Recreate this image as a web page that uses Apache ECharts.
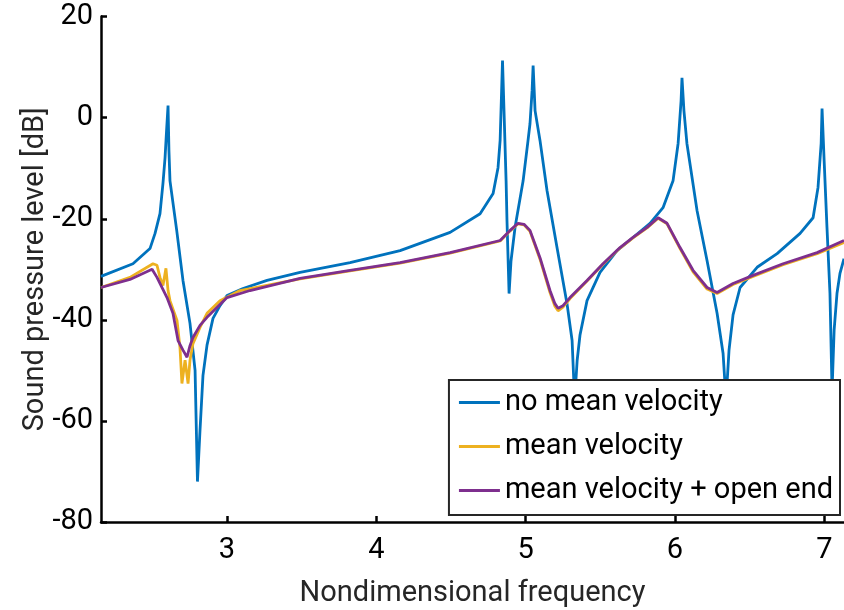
<!DOCTYPE html>
<html>
<head>
<meta charset="utf-8">
<script src="https://cdn.jsdelivr.net/npm/echarts@6/dist/echarts.min.js"></script>
<style>
  html, body { margin: 0; padding: 0; background: #fff; }
  #main { width: 844px; height: 610px; }
</style>
</head>
<body>
<div id="main"></div>
<script>
// no mean velocity
var freqA = [2.156, 2.370, 2.484, 2.518, 2.551, 2.571, 2.585, 2.595, 2.605, 2.611, 2.618, 2.663, 2.705, 2.752, 2.786, 2.802,
  2.819, 2.839, 2.866, 2.906, 2.953, 3.0, 3.107, 3.268, 3.489, 3.824, 4.159, 4.494, 4.695, 4.782, 4.815, 4.829, 4.839, 4.845,
  4.855, 4.869, 4.875, 4.889, 4.902, 4.929, 4.983, 5.016, 5.029, 5.043, 5.050, 5.063, 5.096, 5.143, 5.210, 5.277, 5.311, 5.328,
  5.345, 5.364, 5.411, 5.498, 5.612, 5.719, 5.833, 5.920, 5.987, 6.021, 6.041, 6.047, 6.060, 6.080, 6.148, 6.215, 6.282, 6.322,
  6.342, 6.362, 6.389, 6.436, 6.550, 6.684, 6.838, 6.925, 6.958, 6.979, 6.985, 6.999, 7.018, 7.038, 7.052, 7.066, 7.085, 7.105, 7.132]
var splA = [-31.4, -28.9, -25.9, -22.9, -19.0, -13.0, -7.9, -2.6, 2.4, -6.5, -12.5, -22.3, -32.2, -40.7, -50.0, -72.0,
  -61.9, -51.0, -45.0, -39.7, -37.2, -35.2, -33.8, -32.2, -30.6, -28.7, -26.3, -22.7, -19.0, -15.0, -9.9, -4.5, 5.3, 11.3,
  1.4, -12.5, -20.4, -34.8, -28.3, -21.7, -12.5, -4.5, -1.2, 5.3, 10.3, 1.4, -4.5, -14.4, -25.7, -36.8, -44.1, -56.0,
  -48.0, -43.0, -36.2, -30.6, -26.3, -23.7, -20.9, -17.8, -12.5, -5.1, 3.4, 7.9, 1.4, -5.1, -18.4, -28.3, -38.7, -46.6,
  -56.0, -46.0, -39.0, -33.6, -29.6, -26.9, -22.9, -19.8, -13.8, -5.1, 1.8, -8.5, -21.7, -34.8, -54.0, -42.0, -34.8, -30.8, -27.9]

// mean velocity
var freqB = [2.156, 2.350, 2.504, 2.531, 2.551, 2.571, 2.591, 2.605, 2.618, 2.665, 2.685, 2.698, 2.719, 2.739, 2.752, 2.772,
  2.819, 2.866, 2.953, 3.087, 3.489, 3.824, 4.159, 4.494, 4.829, 4.896, 4.949, 4.989, 5.029, 5.096, 5.163, 5.196, 5.217,
  5.250, 5.297, 5.411, 5.518, 5.632, 5.719, 5.813, 5.887, 5.947, 6.034, 6.121, 6.215, 6.282, 6.389, 6.523, 6.724, 6.952, 7.132]
var splB = [-33.6, -31.6, -28.9, -29.2, -31.6, -33.2, -29.8, -34.2, -36.2, -40.1, -45.5, -52.6, -48.0, -52.6, -48.0, -44.7,
  -41.5, -38.7, -36.2, -34.2, -31.9, -30.3, -28.8, -26.8, -24.4, -22.4, -21.0, -21.2, -22.5, -28.0, -34.6, -37.3, -38.2,
  -37.5, -35.8, -32.3, -29.0, -25.8, -23.8, -21.8, -19.9, -21.0, -25.9, -30.5, -33.9, -34.8, -33.0, -31.4, -29.1, -26.9, -24.7]

// mean velocity + open end
var freqC = [2.156, 2.350, 2.498, 2.531, 2.598, 2.638, 2.672, 2.705, 2.732, 2.752, 2.772, 2.819, 2.866, 3.0, 3.154, 3.489,
  3.824, 4.159, 4.494, 4.829, 4.896, 4.949, 4.989, 5.029, 5.096, 5.163, 5.196, 5.217, 5.250, 5.297, 5.411, 5.518, 5.632,
  5.719, 5.813, 5.887, 5.947, 6.034, 6.121, 6.215, 6.282, 6.389, 6.523, 6.724, 6.952, 7.132]
var splC = [-33.6, -32.0, -30.0, -31.6, -35.6, -38.7, -44.1, -46.0, -47.4, -45.1, -43.5, -41.1, -39.5, -35.6, -34.2, -31.8,
  -30.2, -28.7, -26.7, -24.3, -22.3, -20.9, -21.1, -22.3, -27.7, -34.2, -36.8, -37.7, -37.2, -35.6, -32.2, -28.9, -25.7,
  -23.7, -21.7, -19.8, -20.9, -25.7, -30.2, -33.6, -34.6, -32.8, -31.2, -28.9, -26.7, -24.3]

var xTicks = [3, 4, 5, 6, 7]
var seriesNames = ["no mean velocity", "mean velocity", "mean velocity + open end"]

function zip(xs, ys) {
  return xs.map(function (x, i) { return [x, ys[i]] })
}

var chart = echarts.init(document.getElementById("main"))
var font = "Roboto, 'Liberation Sans', sans-serif"
var fs = 29

var option = {
  animation: false,
  backgroundColor: "#fff",
  grid: { left: 101, right: 0, top: 16.6, bottom: 88, containLabel: false, outerBoundsMode: "none" },
  xAxis: {
    type: "value",
    min: 2.156,
    max: 7.132,
    name: "Nondimensional frequency",
    nameLocation: "middle",
    nameGap: 57,
    nameMoveOverlap: false,
    nameTextStyle: { fontFamily: font, fontSize: fs, color: "#262626" },
    axisLine: { show: true, onZero: false, lineStyle: { color: "#000", width: 2.5 } },
    axisTick: { show: true, inside: true, length: 6, customValues: xTicks, lineStyle: { color: "#000", width: 2.5 } },
    axisLabel: { customValues: xTicks, margin: 14, fontFamily: font, fontSize: fs, color: "#000" },
    splitLine: { show: false }
  },
  yAxis: {
    type: "value",
    min: -80,
    max: 20,
    interval: 20,
    name: "Sound pressure level [dB]",
    nameLocation: "middle",
    nameGap: 51,
    nameMoveOverlap: false,
    nameTextStyle: { fontFamily: font, fontSize: fs, color: "#262626" },
    axisLine: { show: true, onZero: false, lineStyle: { color: "#000", width: 2.5 } },
    axisTick: { show: true, inside: true, length: 6, lineStyle: { color: "#000", width: 2.5 } },
    axisLabel: { margin: 8, fontFamily: font, fontSize: fs, color: "#000" },
    splitLine: { show: false }
  },
  legend: {
    orient: "vertical",
    right: 4,
    top: 380,
    data: seriesNames,
    backgroundColor: "#fff",
    borderColor: "#262626",
    borderWidth: 2,
    borderRadius: 0,
    padding: [8, 7, 10, 10],
    itemGap: 15,
    itemWidth: 41,
    itemHeight: 3,
    icon: "rect",
    textStyle: { fontFamily: font, fontSize: fs, color: "#000" }
  },
  series: [
    { name: seriesNames[0], type: "line", data: zip(freqA, splA), showSymbol: false, color: "#0072BD", lineStyle: { width: 2.8 }, z: 2 },
    { name: seriesNames[1], type: "line", data: zip(freqB, splB), showSymbol: false, color: "#EDB120", lineStyle: { width: 2.8 }, z: 3 },
    { name: seriesNames[2], type: "line", data: zip(freqC, splC), showSymbol: false, color: "#7E2F8E", lineStyle: { width: 2.8 }, z: 4 }
  ]
}

chart.setOption(option)
window.addEventListener("resize", function () { chart.resize() })
</script>
</body>
</html>
